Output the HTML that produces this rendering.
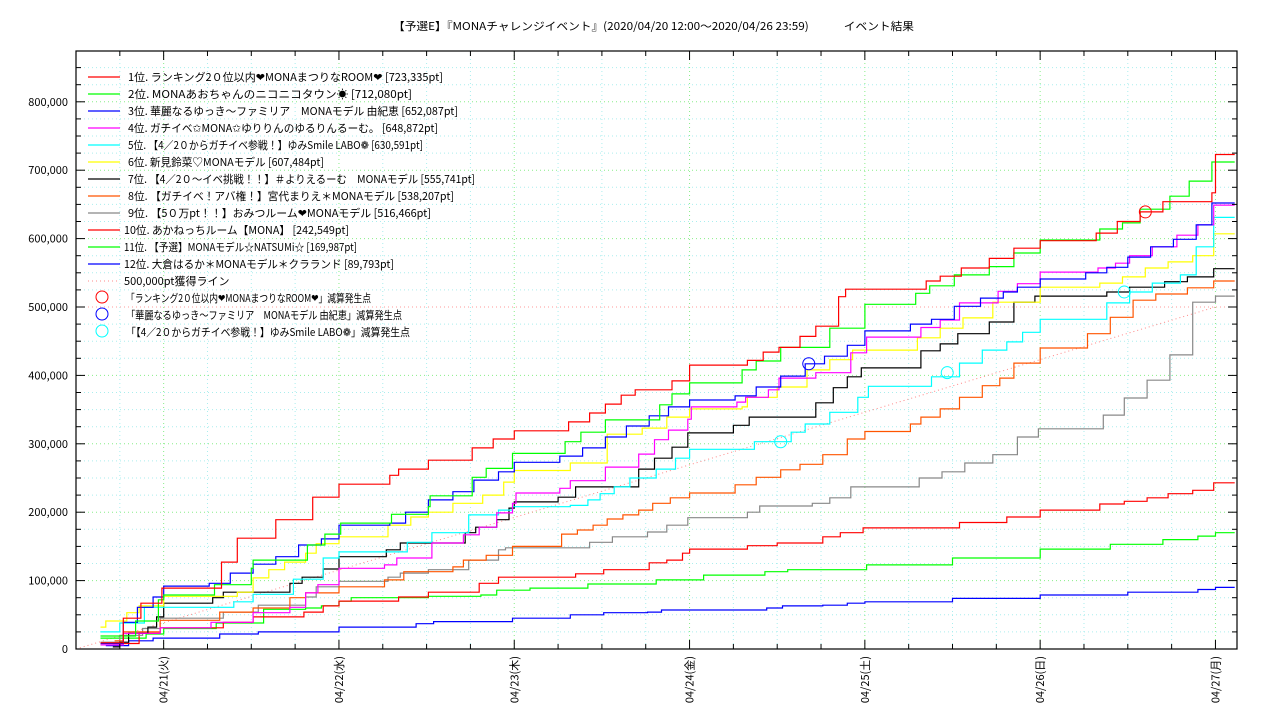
<!DOCTYPE html>
<html><head><meta charset="utf-8">
<style>
html,body{margin:0;padding:0;background:#fff;}
svg{display:block;font-family:"Noto Sans CJK JP","Liberation Sans",sans-serif;}
</style></head>
<body>
<svg id="chart" width="1280" height="720" viewBox="0 0 1280 720" xmlns="http://www.w3.org/2000/svg">
<text x="393" y="30" font-size="11" fill="#000" textLength="521" lengthAdjust="spacingAndGlyphs">【予選E】『MONAチャレンジイベント』(2020/04/20 12:00〜2020/04/26 23:59)　　　イベント結果</text>
<g id="grid"></g>
<g id="series"></g>
<g id="axes"></g>
<g id="legend"></g>
</svg>
<script>
// ---- data (t = days since 04/20 00:00, values in thousands of pt) ----
const dayLabels = ["04/21(火)","04/22(水)","04/23(木)","04/24(金)","04/25(土)","04/26(日)","04/27(月)"];
const yTickLabels = ["0","100,000","200,000","300,000","400,000","500,000","600,000","700,000","800,000"];
const seriesNames = [
"1位. ランキング2０位以内❤MONAまつりなROOM❤ [723,335pt]",
"2位. MONAあおちゃんのニコニコタウン☀ [712,080pt]",
"3位. 華麗なるゆっき〜ファミリア　MONAモデル 由紀恵 [652,087pt]",
"4位. ガチイベ✩MONA✩ゆりりんのゆるりんるーむ。 [648,872pt]",
"5位. 【4／2０からガチイベ参戦！】ゆみSmile LABO❁ [630,591pt]",
"6位. 新見鈴菜♡MONAモデル [607,484pt]",
"7位. 【4／2０〜イベ挑戦！！】＃よりえるーむ　MONAモデル [555,741pt]",
"8位. 【ガチイベ！アバ権！】宮代まりえ＊MONAモデル [538,207pt]",
"9位. 【5０万pt！！】おみつルーム❤MONAモデル [516,466pt]",
"10位. あかねっちルーム【MONA】 [242,549pt]",
"11位. 【予選】MONAモデル☆NATSUMi☆ [169,987pt]",
"12位. 大倉はるか＊MONAモデル＊クラランド [89,793pt]"];
const legendWidths = [315,284,330,310,295,196,347,326,303,225,233,270];
const seriesColors = ["#ff0000","#00ff00","#0000ff","#ff00ff","#00ffff","#ffff00","#000000","#ff5500","#888888","#ff0000","#00ff00","#0000ff"];
const s1 = [[0.64,9],[0.77,45],[0.87,67],[0.99,89],[1.33,127],[1.42,162],[1.64,189],[1.85,222],[2.0,241],[2.29,254],[2.34,263],[2.51,276],[2.76,294],[2.88,307],[3.0,319],[3.31,332],[3.43,345],[3.52,358],[3.61,371],[3.69,379],[3.90,392],[4.0,415],[4.33,422],[4.42,434],[4.51,441],[4.63,457],[4.72,472],[4.85,515],[4.89,526],[5.35,538],[5.43,545],[5.55,557],[5.71,571],[5.85,586],[6.0,597],[6.32,608],[6.44,625],[6.57,639],[6.70,654],[6.98,667],[7.0,723]];
const s2 = [[0.64,19],[0.84,41],[0.97,72],[1.0,79],[1.29,94],[1.50,118],[1.51,130],[1.82,152],[1.92,168],[2.01,184],[2.30,197],[2.51,208],[2.52,224],[2.76,251],[2.84,264],[2.99,286],[3.29,303],[3.38,317],[3.52,335],[3.83,357],[3.90,373],[4.0,389],[4.30,408],[4.38,421],[4.52,441],[4.80,469],[5.0,504],[5.29,520],[5.37,531],[5.51,547],[5.71,559],[5.85,579],[6.0,598],[6.34,614],[6.47,623],[6.57,643],[6.74,662],[6.85,684],[6.98,712]];
const s3 = [[0.64,8],[0.77,39],[0.85,61],[0.94,76],[1.0,92],[1.26,96],[1.38,111],[1.51,124],[1.64,135],[1.77,152],[1.90,161],[2.0,181],[2.29,184],[2.38,200],[2.51,218],[2.65,230],[2.77,247],[2.91,259],[3.0,273],[3.26,282],[3.39,294],[3.52,310],[3.64,326],[3.77,341],[3.88,354],[4.0,364],[4.26,370],[4.38,383],[4.52,399],[4.66,417],[4.77,428],[4.90,444],[5.0,465],[5.26,475],[5.38,482],[5.51,501],[5.66,513],[5.79,522],[5.87,529],[6.0,541],[6.26,550],[6.38,558],[6.50,573],[6.63,588],[6.76,599],[6.89,620],[6.98,652]];
const s4 = [[0.64,6],[0.77,23],[0.98,31],[1.27,39],[1.51,53],[1.72,61],[1.81,82],[1.88,94],[2.0,118],[2.26,123],[2.33,133],[2.53,155],[2.71,167],[2.80,178],[2.90,199],[2.99,213],[3.01,228],[3.26,235],[3.32,246],[3.52,266],[3.71,285],[3.80,306],[3.88,320],[3.99,336],[4.01,354],[4.27,361],[4.32,368],[4.45,379],[4.51,396],[4.72,404],[4.92,433],[5.01,456],[5.32,470],[5.43,481],[5.54,506],[5.76,523],[5.87,534],[6.0,551],[6.33,557],[6.43,564],[6.51,575],[6.64,588],[6.78,605],[6.90,620],[6.99,649]];
const s5 = [[0.64,25],[0.75,38],[0.89,61],[1.40,69],[1.51,80],[1.74,102],[1.91,133],[2.0,142],[2.39,156],[2.53,170],[2.74,196],[2.91,203],[2.99,208],[3.32,210],[3.42,218],[3.49,227],[3.57,237],[3.66,250],[3.81,263],[3.92,279],[4.0,292],[4.37,303],[4.58,317],[4.66,329],[4.80,346],[4.96,368],[5.02,384],[5.38,398],[5.54,418],[5.67,437],[5.81,449],[5.90,463],[6.0,482],[6.38,506],[6.51,522],[6.64,535],[6.80,547],[6.89,588],[6.99,631]];
const s6 = [[0.64,32],[0.67,41],[0.79,53],[0.86,63],[1.0,77],[1.42,83],[1.51,104],[1.60,116],[1.69,127],[1.81,140],[1.87,154],[2.0,164],[2.28,181],[2.41,193],[2.51,200],[2.65,213],[2.82,225],[2.94,244],[3.0,261],[3.32,272],[3.53,314],[3.73,323],[3.87,339],[4.0,351],[4.30,354],[4.33,368],[4.50,383],[4.67,408],[4.80,423],[4.93,437],[5.30,455],[5.43,469],[5.56,484],[5.73,507],[6.0,529],[6.34,535],[6.47,544],[6.60,557],[6.73,566],[6.87,575],[6.99,607]];
const s7 = [[0.71,3],[0.75,10],[0.80,23],[0.91,32],[0.96,47],[1.0,67],[1.28,75],[1.34,83],[1.72,96],[1.79,105],[1.91,117],[2.0,135],[2.27,145],[2.35,155],[2.72,170],[2.78,178],[2.90,189],[2.97,206],[3.0,215],[3.25,222],[3.35,237],[3.71,263],[3.80,279],[3.90,295],[3.99,316],[4.25,327],[4.34,339],[4.72,360],[4.82,382],[4.90,398],[4.98,411],[5.32,436],[5.43,446],[5.53,461],[5.71,478],[5.85,507],[5.97,516],[6.38,522],[6.51,529],[6.71,537],[6.84,544],[6.99,556]];
const s8 = [[0.72,12],[0.77,25],[0.98,42],[1.32,54],[1.51,60],[1.72,75],[1.81,82],[2.0,91],[2.26,101],[2.37,113],[2.65,120],[2.71,130],[2.84,137],[2.99,150],[3.27,168],[3.36,174],[3.45,181],[3.53,190],[3.62,196],[3.71,203],[3.79,213],[3.89,221],[4.0,228],[4.26,240],[4.38,251],[4.52,262],[4.63,270],[4.76,284],[4.90,307],[5.0,318],[5.26,329],[5.32,339],[5.43,351],[5.54,368],[5.67,385],[5.77,396],[5.85,418],[6.0,440],[6.27,461],[6.40,485],[6.53,510],[6.66,519],[6.84,528],[6.99,538]];
const s9 = [[0.64,10],[0.75,20],[0.88,30],[0.98,45],[1.34,54],[1.54,64],[1.81,76],[1.87,91],[2.0,99],[2.28,105],[2.35,111],[2.51,116],[2.74,130],[2.91,145],[2.95,148],[3.43,156],[3.56,164],[3.76,171],[3.87,181],[3.99,192],[4.33,200],[4.40,209],[4.70,213],[4.80,221],[4.92,237],[5.31,250],[5.44,259],[5.57,272],[5.73,284],[5.87,310],[5.99,322],[6.36,342],[6.48,367],[6.61,393],[6.74,430],[6.87,507],[7.0,516]];
const s10 = [[0.71,8],[0.86,23],[0.98,31],[1.34,39],[1.51,47],[1.80,54],[1.91,63],[2.0,70],[2.34,76],[2.51,83],[2.80,96],[2.91,105],[3.35,110],[3.51,116],[3.77,126],[3.87,130],[3.96,140],[4.0,146],[4.33,151],[4.50,155],[4.76,164],[4.86,170],[4.99,177],[5.54,185],[5.81,193],[6.0,203],[6.34,212],[6.48,216],[6.61,221],[6.73,227],[6.87,232],[6.99,243]];
const s11 = [[0.64,16],[0.90,22],[1.0,30],[1.30,38],[1.57,58],[1.81,60],[1.90,63],[2.0,70],[2.07,75],[2.51,77],[2.81,79],[2.90,86],[3.09,89],[3.42,95],[3.81,101],[4.08,108],[4.43,113],[4.56,116],[5.01,123],[5.5,133],[6.0,146],[6.4,153],[6.7,160],[6.9,165],[7.0,170]];
const s12 = [[0.67,5],[0.80,12],[0.94,16],[1.32,22],[1.54,25],[2.0,32],[2.44,37],[2.54,40],[2.99,45],[3.32,50],[3.51,53],[3.76,54],[3.84,57],[4.44,60],[4.53,63],[4.76,64],[4.90,67],[5.0,69],[5.5,74],[6.0,79],[6.5,83],[6.9,87],[7.0,90]];
const allSeries = [s1,s2,s3,s4,s5,s6,s7,s8,s9,s10,s11,s12];
const deductionT = [6.60, 4.68, 4.52, 5.47, 6.48];
const deductionV = [639, 417, 303, 404, 522];
const deductionColors = ["#ff0000","#0000ff","#00ffff","#00ffff","#00ffff"];
const deductionLabels = ["「ランキング2０位以内❤MONAまつりなROOM❤」減算発生点","「華麗なるゆっき〜ファミリア　MONAモデル 由紀恵」減算発生点","「【4／2０からガチイベ参戦！】ゆみSmile LABO❁」減算発生点"];
const deductionLabelWidths = [245,276,284];
const targetLine = [[0.5,0],[7.0,500]];
const endT = 7.11;

// ---- scales ----
const PL=76, PR=1237, PT=51, PB=649;
function X(t){ return 163.65 + (t-1)*175.3; }
function Y(v){ return PB - v*0.684; }
const NS="http://www.w3.org/2000/svg";
function mk(tag, parent){ const e=document.createElementNS(NS,tag); parent.appendChild(e); return e; }
const grid=document.getElementById('grid'), ser=document.getElementById('series'), axes=document.getElementById('axes'), leg=document.getElementById('legend');

for(let v=25; v<=874; v+=25){
  const l=mk('line',grid);
  
  
  l.setAttribute('x1',PL); l.setAttribute('x2',PR); l.setAttribute('y1',Y(v)); l.setAttribute('y2',Y(v));
  const major = v%100===0;
  l.setAttribute('stroke', v===500 ? '#ff9999' : (major?'#88ee88':'#aaeeee'));
  l.setAttribute('stroke-dasharray','1,3'); l.setAttribute('stroke-width','1');
}
for(let t=0.75; t<endT+0.2; t+=0.25){
  const x=X(t); if(x<=PL+1||x>=PR) continue;
  const l=mk('line',grid);
  
  
  l.setAttribute('x1',x); l.setAttribute('x2',x); l.setAttribute('y1',PT); l.setAttribute('y2',PB);
  const major = Math.abs(t-Math.round(t))<1e-6;
  l.setAttribute('stroke', major?'#88ee88':'#aaeeee');
  l.setAttribute('stroke-dasharray','1,3');
}
{
  const l=mk('line',ser);
  
  
  l.setAttribute('x1',X(targetLine[0][0])); l.setAttribute('y1',Y(targetLine[0][1]));
  l.setAttribute('x2',X(targetLine[1][0])); l.setAttribute('y2',Y(targetLine[1][1]));
  l.setAttribute('stroke','#ff8888'); l.setAttribute('stroke-dasharray','1,3');
}
for(let i=allSeries.length-1;i>=0;i--){
  const d=allSeries[i];
  let p='M'+X(d[0][0]).toFixed(1)+','+Y(d[0][1]).toFixed(1);
  for(let k=1;k<d.length;k++){ p+=' H'+X(d[k][0]).toFixed(1)+' V'+Y(d[k][1]).toFixed(1); }
  p+=' H'+X(endT).toFixed(1);
  const e=mk('path',ser);
  
  
  e.setAttribute('d',p); e.setAttribute('fill','none'); e.setAttribute('stroke',seriesColors[i]); e.setAttribute('stroke-width','1.2');
}
for(let i=0;i<deductionT.length;i++){
  const c=mk('circle',ser);
  
  
  c.setAttribute('cx',X(deductionT[i])); c.setAttribute('cy',Y(deductionV[i])); c.setAttribute('r','6');
  c.setAttribute('fill','none'); c.setAttribute('stroke',deductionColors[i]); c.setAttribute('stroke-width','1');
}
{
  const r=mk('rect',axes);
  
  
  r.setAttribute('x',PL); r.setAttribute('y',PT); r.setAttribute('width',PR-PL); r.setAttribute('height',PB-PT);
  r.setAttribute('fill','none'); r.setAttribute('stroke','#000'); r.setAttribute('stroke-width','1.2');
}
for(let v=25; v<=874; v+=25){
  const major=v%100===0, len=major?9:5;
  const a=mk('line',axes);
  
  
  a.setAttribute('x1',PL); a.setAttribute('x2',PL+len); a.setAttribute('y1',Y(v)); a.setAttribute('y2',Y(v)); a.setAttribute('stroke','#000');
  const b=mk('line',axes);
  
  
  b.setAttribute('x1',PR); b.setAttribute('x2',PR-len); b.setAttribute('y1',Y(v)); b.setAttribute('y2',Y(v)); b.setAttribute('stroke','#000');
}
yTickLabels.forEach((s,i)=>{
  const t=mk('text',axes);
  
  
  t.setAttribute('x',68); t.setAttribute('y',Y(i*100)+4); t.setAttribute('text-anchor','end'); t.setAttribute('font-size','11');
  t.textContent=s;
});
for(let t=0.75; t<endT+0.2; t+=0.25){
  const x=X(t); if(x<=PL+1||x>=PR) continue;
  const major=Math.abs(t-Math.round(t))<1e-6, len=major?9:5;
  const a=mk('line',axes);
  
  
  a.setAttribute('x1',x); a.setAttribute('x2',x); a.setAttribute('y1',PB); a.setAttribute('y2',PB-len); a.setAttribute('stroke','#000');
  const b=mk('line',axes);
  
  
  b.setAttribute('x1',x); b.setAttribute('x2',x); b.setAttribute('y1',PT); b.setAttribute('y2',PT+len); b.setAttribute('stroke','#000');
}
dayLabels.forEach((s,i)=>{
  const x=X(i+1);
  const t=mk('text',axes);
  
  
  t.setAttribute('transform','translate('+(x+4)+',656) rotate(-90)');
  t.setAttribute('text-anchor','end'); t.setAttribute('font-size','11');
  t.textContent=s;
});
const LY0=77, LDY=17;
seriesNames.forEach((s,i)=>{
  const y=LY0+i*LDY;
  const l=mk('line',leg);
  
  
  l.setAttribute('x1',88); l.setAttribute('x2',120); l.setAttribute('y1',y); l.setAttribute('y2',y);
  l.setAttribute('stroke',seriesColors[i]); l.setAttribute('stroke-width','1.2');
  const t=mk('text',leg);
  
  
  t.setAttribute('x', i>=9?124:128); t.setAttribute('y',y+4); t.setAttribute('font-size','11');
  t.setAttribute('textLength', legendWidths[i]); t.setAttribute('lengthAdjust','spacingAndGlyphs');
  t.textContent=s;
});
{
  const y=LY0+12*LDY;
  const l=mk('line',leg);
  
  
  l.setAttribute('x1',88); l.setAttribute('x2',120); l.setAttribute('y1',y); l.setAttribute('y2',y);
  l.setAttribute('stroke','#ff8888'); l.setAttribute('stroke-dasharray','1,3');
  const t=mk('text',leg);
  
  
  t.setAttribute('x',124); t.setAttribute('y',y+4); t.setAttribute('font-size','11');
  t.textContent='500,000pt獲得ライン';
}
const legCircleColors=["#ff0000","#0000ff","#00ffff"];
deductionLabels.forEach((s,i)=>{
  const y=LY0+(13+i)*LDY;
  const c=mk('circle',leg);
  
  
  c.setAttribute('cx',102); c.setAttribute('cy',y-1); c.setAttribute('r','6');
  c.setAttribute('fill','none'); c.setAttribute('stroke',legCircleColors[i]);
  const t=mk('text',leg);
  
  
  t.setAttribute('x',126); t.setAttribute('y',y+4); t.setAttribute('font-size','11');
  t.setAttribute('textLength', deductionLabelWidths[i]); t.setAttribute('lengthAdjust','spacingAndGlyphs');
  t.textContent=s;
});
</script>
</body></html>
